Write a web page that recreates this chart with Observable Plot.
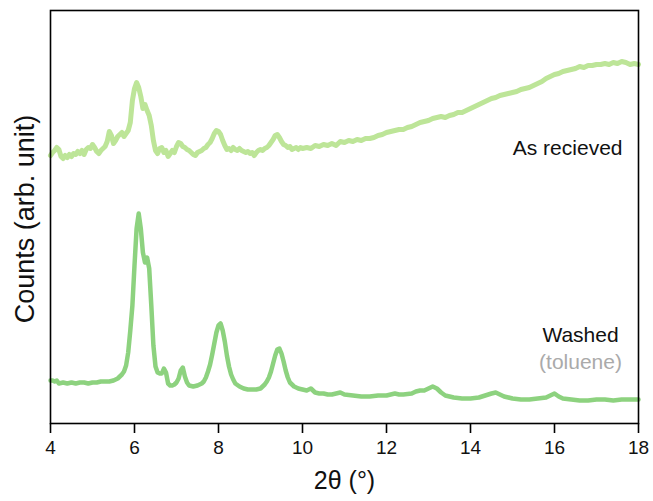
<!DOCTYPE html>
<html>
<head>
<meta charset="utf-8">
<script src="https://cdn.jsdelivr.net/npm/d3@7"></script>
<script src="https://cdn.jsdelivr.net/npm/@observablehq/plot@0.6"></script>
<style>
  html, body { margin: 0; padding: 0; background: #fff; }
  svg { font-family: "Liberation Sans", Arial, Helvetica, sans-serif; }
</style>
</head>
<body>
<div id="chart"></div>
<script>
// 2θ positions and counts (arb. unit)
const asReceivedTheta = [4.00,4.05,4.10,4.15,4.20,4.25,4.30,4.35,4.40,4.45,4.50,4.55,4.60,4.65,4.70,4.75,4.80,4.85,4.90,4.95,5.00,5.05,5.10,5.15,5.20,5.25,5.30,5.35,5.40,5.45,5.50,5.55,5.60,5.65,5.70,5.75,5.80,5.85,5.90,5.95,6.00,6.05,6.10,6.15,6.20,6.25,6.30,6.35,6.40,6.45,6.50,6.55,6.60,6.65,6.70,6.75,6.80,6.85,6.90,6.95,7.00,7.05,7.10,7.15,7.20,7.25,7.30,7.35,7.40,7.45,7.50,7.55,7.60,7.65,7.70,7.75,7.80,7.85,7.90,7.95,8.00,8.05,8.10,8.15,8.20,8.25,8.30,8.35,8.40,8.45,8.50,8.55,8.60,8.65,8.70,8.75,8.80,8.85,8.90,8.95,9.00,9.05,9.10,9.15,9.20,9.25,9.30,9.35,9.40,9.45,9.50,9.55,9.60,9.65,9.70,9.75,9.80,9.85,9.90,9.95,10.0,10.1,10.2,10.3,10.4,10.5,10.6,10.7,10.8,10.9,11.0,11.1,11.2,11.3,11.4,11.5,11.6,11.7,11.8,11.9,12.0,12.1,12.2,12.3,12.4,12.5,12.6,12.7,12.8,12.9,13.0,13.1,13.2,13.3,13.4,13.5,13.6,13.7,13.8,13.9,14.0,14.1,14.2,14.3,14.4,14.5,14.6,14.7,14.8,14.9,15.0,15.1,15.2,15.3,15.4,15.5,15.6,15.7,15.8,15.9,16.0,16.1,16.2,16.3,16.4,16.5,16.6,16.7,16.8,16.9,17.0,17.1,17.2,17.3,17.4,17.5,17.6,17.7,17.8,17.9,18.0];
const asReceivedCounts = [268,271,273,276,274,267,265,268,266,269,267,270,269,272,270,273,269,274,276,275,279,276,272,270,273,275,277,282,292,288,280,283,287,289,291,287,290,293,301,323,335,341,336,327,315,319,313,308,298,283,273,270,275,276,271,273,267,270,273,271,277,281,280,277,276,274,273,271,269,268,271,272,273,275,276,279,281,285,290,293,292,289,283,278,274,275,273,276,274,273,275,273,272,271,272,270,271,268,271,273,274,273,275,276,278,281,284,288,289,286,282,279,278,276,277,274,275,276,274,276,275,276,275,278,277,279,278,280,278,282,281,283,282,284,283,285,285,286,288,289,291,292,293,294,294,296,297,299,301,302,303,305,306,307,306,308,309,311,311,313,315,317,319,321,323,325,326,328,329,330,331,332,334,335,336,338,340,342,345,347,349,350,352,353,354,355,357,356,358,358,359,359,360,359,361,360,362,361,359,360,359];

const washedTheta = [4.00,4.05,4.10,4.15,4.20,4.30,4.40,4.50,4.60,4.70,4.80,4.90,5.00,5.10,5.20,5.30,5.40,5.50,5.60,5.65,5.70,5.75,5.80,5.85,5.90,5.95,6.00,6.05,6.10,6.15,6.20,6.25,6.30,6.35,6.40,6.45,6.50,6.55,6.60,6.65,6.70,6.75,6.80,6.85,6.90,6.95,7.00,7.05,7.10,7.15,7.20,7.25,7.30,7.40,7.50,7.60,7.65,7.70,7.75,7.80,7.85,7.90,7.95,8.00,8.05,8.10,8.15,8.20,8.25,8.30,8.35,8.40,8.50,8.60,8.70,8.80,8.90,9.00,9.05,9.10,9.15,9.20,9.25,9.30,9.35,9.40,9.45,9.50,9.55,9.60,9.65,9.70,9.80,9.90,10.0,10.1,10.2,10.3,10.4,10.5,10.6,10.7,10.8,10.9,11.0,11.2,11.4,11.6,11.8,12.0,12.2,12.3,12.4,12.6,12.7,12.8,12.9,13.0,13.1,13.2,13.3,13.4,13.6,13.8,14.0,14.2,14.35,14.5,14.6,14.7,14.8,15.0,15.2,15.4,15.6,15.8,15.9,16.0,16.1,16.2,16.4,16.6,16.8,17.0,17.2,17.4,17.6,17.8,18.0];
const washedCounts = [43,43,42,43,40,41,40,41,40,41,41,40,41,41,42,42,42,43,45,47,49,52,58,71,93,118,158,195,210,195,171,161,166,155,118,78,57,51,50,50,55,51,40,38,38,39,41,45,53,56,47,41,38,37,38,40,42,46,52,59,69,80,91,98,100,93,82,68,57,49,44,40,37,35,34,34,34,35,37,39,42,46,52,60,68,74,75,70,62,53,46,41,37,35,34,33,35,31,30,30,29,29,30,31,29,28,27,27,28,28,30,29,29,30,32,33,33,35,37,35,31,28,26,25,25,26,28,30,31,29,27,25,24,24,25,26,28,30,27,25,24,23,23,24,24,23,24,24,24];

const xTicks = [4, 6, 8, 10, 12, 14, 16, 18];
const seriesNames = ["As recieved", "Washed"];
const solventNote = "(toluene)";
const xLabel = "2θ (°)";
const yLabel = "Counts (arb. unit)";

const asReceived = asReceivedTheta.map((t, i) => ({theta: t, counts: asReceivedCounts[i]}));
const washed = washedTheta.map((t, i) => ({theta: t, counts: washedCounts[i]}));
const endA = asReceived[asReceived.length - 1];
const endW = washed[washed.length - 1];

const chart = Plot.plot({
  width: 653,
  height: 501,
  marginLeft: 50,
  marginRight: 15,
  marginTop: 10,
  marginBottom: 78,
  style: {fontFamily: '"Liberation Sans", Arial, Helvetica, sans-serif', background: "#fff", color: "#000"},
  x: {domain: [4, 18]},
  y: {domain: [0, 413], axis: null},
  marks: [
    Plot.line(asReceived, {x: "theta", y: "counts", stroke: "#bde598", strokeWidth: 5, strokeLinejoin: "round", strokeLinecap: "round"}),
    Plot.line(washed, {x: "theta", y: "counts", stroke: "#8dd27f", strokeWidth: 4.5, strokeLinejoin: "round", strokeLinecap: "round"}),
    Plot.frame({stroke: "#000", strokeWidth: 1.6}),
    Plot.axisX({ticks: xTicks, tickSize: 10, strokeWidth: 1.6, text: null, label: null}),
    Plot.text(xTicks, {x: d => d, text: d => String(d), frameAnchor: "bottom", dy: 30, fontSize: 19, fill: "#111"}),
    Plot.text([endA], {x: "theta", y: "counts", text: () => seriesNames[0], textAnchor: "end", dx: -16, dy: 84, fontSize: 21, fill: "#111"}),
    Plot.text([endW], {x: "theta", y: "counts", text: () => seriesNames[1], textAnchor: "middle", dx: -58, dy: -64, fontSize: 21, fill: "#111"}),
    Plot.text([endW], {x: "theta", y: "counts", text: () => solventNote, textAnchor: "middle", dx: -58, dy: -37, fontSize: 21, fill: "#aaaaaa"}),
    Plot.text([xLabel], {frameAnchor: "bottom", textAnchor: "middle", dy: 65, fontSize: 25, fill: "#111"}),
    Plot.text([yLabel], {frameAnchor: "left", textAnchor: "middle", rotate: -90, dx: -25, dy: 2, fontSize: 27, fill: "#111"})
  ]
});
document.getElementById("chart").appendChild(chart);
</script>
</body>
</html>
